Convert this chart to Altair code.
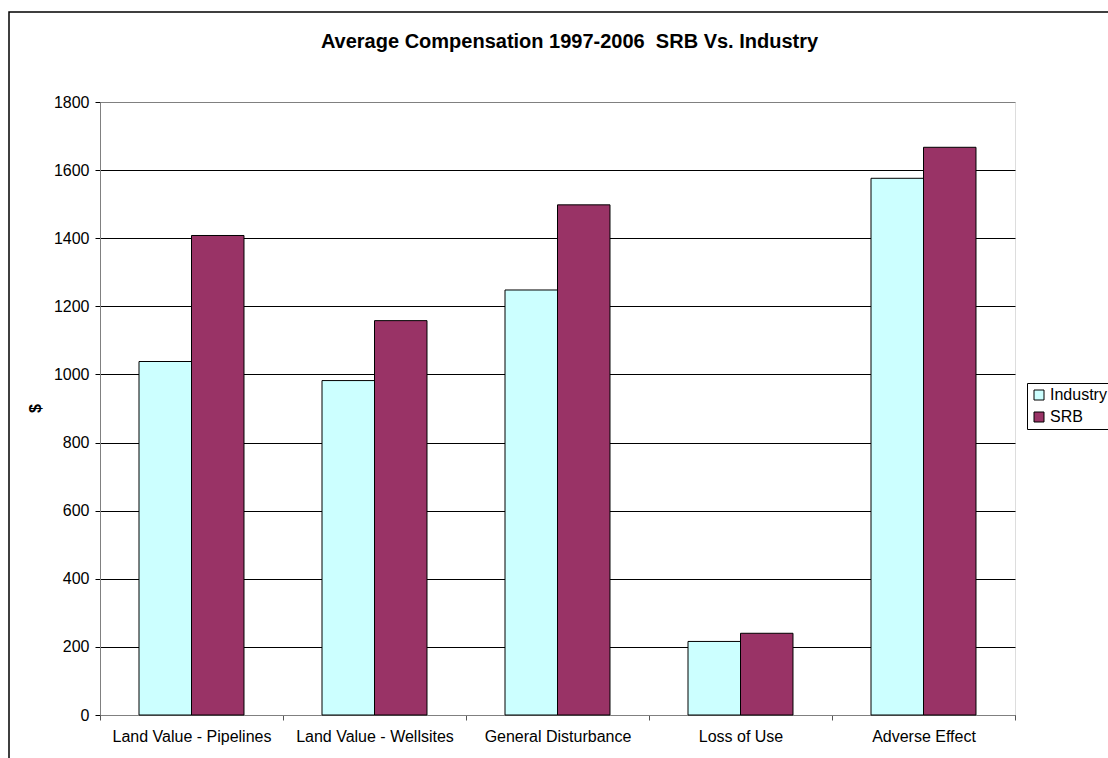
import altair as alt
import pandas as pd

# Average compensation per category, 1997-2006
categories = [
    "Land Value - Pipelines",
    "Land Value - Wellsites",
    "General Disturbance",
    "Loss of Use",
    "Adverse Effect",
]
industry = [1038, 982, 1248, 216, 1576]
srb = [1408, 1158, 1498, 240, 1667]
series = ["Industry", "SRB"]
series_colors = ["#CCFFFF", "#993366"]
y_ticks = [0, 200, 400, 600, 800, 1000, 1200, 1400, 1600, 1800]

rows = []
for cat, ind, s in zip(categories, industry, srb):
    rows.append({"category": cat, "series": "Industry", "value": ind})
    rows.append({"category": cat, "series": "SRB", "value": s})
df = pd.DataFrame(rows)

FONT = "Liberation Sans"
W, H = 915, 613

bars = (
    alt.Chart(df)
    .mark_bar(stroke="black", strokeWidth=1)
    .encode(
        x=alt.X(
            "category:N",
            sort=categories,
            scale=alt.Scale(paddingInner=0, paddingOuter=0),
            axis=alt.Axis(
                title=None,
                labelAngle=0,
                labelFont=FONT,
                labelFontSize=16,
                labelColor="black",
                labelPadding=8,
                tickBand="extent",
                tickSize=5,
                tickColor="#555555",
                domainColor="#808080",
                grid=False,
            ),
        ),
        xOffset=alt.XOffset(
            "series:N",
            sort=series,
            scale=alt.Scale(paddingInner=0, paddingOuter=0.743),
        ),
        y=alt.Y(
            "value:Q",
            scale=alt.Scale(domain=[0, 1800], nice=False),
            axis=alt.Axis(
                title="$",
                titleFont=FONT,
                titleFontSize=16,
                titleFontWeight="bold",
                titleColor="black",
                titleX=-65,
                titleY=306,
                titleAlign="center",
                titleBaseline="middle",
                values=y_ticks,
                format="d",
                labelFont=FONT,
                labelFontSize=16,
                labelColor="black",
                labelPadding=6,
                tickSize=5,
                tickColor="black",
                domainColor="#808080",
                grid=True,
                gridColor={
                    "condition": {"test": "datum.value === 1800", "value": "#808080"},
                    "value": "black",
                },
                gridWidth=1,
            ),
        ),
        color=alt.Color(
            "series:N",
            sort=series,
            scale=alt.Scale(domain=series, range=series_colors),
            legend=alt.Legend(
                title=None,
                orient="none",
                legendX=927,
                legendY=281,
                labelFont=FONT,
                labelFontSize=16,
                labelColor="black",
                labelOffset=3,
                symbolType="square",
                symbolSize=100,
                symbolStrokeColor="black",
                symbolStrokeWidth=1,
                strokeColor="black",
                padding=4,
                rowPadding=6,
            ),
        ),
    )
)

# outer chart frame
frame = (
    alt.Chart(pd.DataFrame({"k": [0]}))
    .mark_rect(fill=None, stroke="black", strokeWidth=1.5, clip=False)
    .encode(
        x=alt.value(-91),
        x2=alt.value(1020),
        y=alt.value(-90),
        y2=alt.value(665),
    )
)

chart = (
    alt.layer(frame, bars)
    .properties(
        width=W,
        height=H,
        autosize=alt.AutoSizeParams(type="none"),
        padding={"left": 100, "top": 102, "right": 93, "bottom": 43},
        title=alt.TitleParams(
            "Average Compensation 1997-2006\u00a0 SRB Vs. Industry",
            font=FONT,
            fontSize=20,
            fontWeight="bold",
            color="black",
            anchor="middle",
            dx=12,
            offset=-57,
            baseline="alphabetic",
        ),
    )
    .configure_view(stroke=None)
    .configure(background="white")
)

chart.save("out.html", embed_options={"renderer": "svg", "actions": False})
